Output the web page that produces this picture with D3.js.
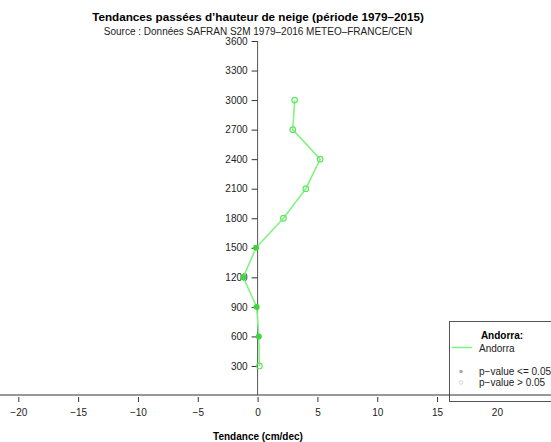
<!DOCTYPE html>
<html>
<head>
<meta charset="utf-8">
<script src="https://cdn.jsdelivr.net/npm/d3@7"></script>
<style>
  body { margin: 0; background: #fff; }
  text { font-family: "Liberation Sans", Arial, Helvetica, sans-serif; }
</style>
</head>
<body>
<svg id="chart" width="551" height="442"></svg>
<script>
// Elevation bands (m) and snow depth trends (cm/decade) for Andorra
const elevations = [300, 600, 900, 1200, 1500, 1800, 2100, 2400, 2700, 3000];
const trends     = [0.15, 0.1, -0.08, -1.2, -0.13, 2.16, 4.03, 5.23, 2.94, 3.1];
// true where p-value <= 0.05
const significant = [false, true, true, true, true, false, false, false, false, false];

const xTicks = [-20, -15, -10, -5, 0, 5, 10, 15, 20, 25];
const yTicks = [300, 600, 900, 1200, 1500, 1800, 2100, 2400, 2700, 3000, 3300, 3600];

const seriesName = "Andorra";
const lineColor = "#84f384";

const svg = d3.select("#chart");

const x = d3.scaleLinear().domain([-20, 20]).range([18.3, 496.9]);
const y = d3.scaleLinear().domain([0, 3600]).range([395.5, 41]);

// Titles
svg.append("text").attr("x", 258).attr("y", 21).attr("text-anchor", "middle")
  .attr("font-size", 11.7).attr("font-weight", "bold")
  .text("Tendances passées d’hauteur de neige (période 1979–2015)");
svg.append("text").attr("x", 258).attr("y", 35).attr("text-anchor", "middle")
  .attr("font-size", 10).attr("fill", "#222")
  .text("Source : Données SAFRAN S2M 1979–2016 METEO–FRANCE/CEN");

// Horizontal base line
svg.append("line").attr("x1", 0).attr("x2", 551).attr("y1", 395).attr("y2", 395)
  .attr("stroke", "#333").attr("stroke-width", 1);

// X axis (ticks + labels below base line)
const xAxis = d3.axisBottom(x).tickValues(xTicks).tickSize(5).tickPadding(7)
  .tickFormat(d => d < 0 ? "−" + Math.abs(d) : d);
const gx = svg.append("g").attr("transform", "translate(0,397)").call(xAxis);
gx.select(".domain").remove();
gx.selectAll("line").attr("stroke", "#333");
gx.selectAll("text").attr("font-size", 10).attr("fill", "#222")
  .style("font-family", "'Liberation Sans', Arial, sans-serif");

svg.append("text").attr("x", 258).attr("y", 440).attr("text-anchor", "middle")
  .attr("font-size", 10).attr("font-weight", "bold").text("Tendance (cm/dec)");

// Y axis at x = 0
const yAxis = d3.axisLeft(y).tickValues(yTicks).tickSize(6).tickPadding(4).tickFormat(d3.format("d"));
const gy = svg.append("g").attr("transform", `translate(${x(0)},0)`).call(yAxis);
gy.select(".domain").attr("d", `M0,${y(3600)}V395`).attr("stroke", "#555");
gy.selectAll("line").attr("stroke", "#333");
gy.selectAll("text").attr("font-size", 10).attr("fill", "#222")
  .style("font-family", "'Liberation Sans', Arial, sans-serif");

// Trend profile
const pts = elevations.map((e, i) => ({ e, t: trends[i], s: significant[i] }));
const line = d3.line().x(d => x(d.t)).y(d => y(d.e));
svg.append("path").datum(pts).attr("d", line)
  .attr("fill", "none").attr("stroke", lineColor).attr("stroke-width", 1.6);

svg.selectAll("circle.pt").data(pts).enter().append("circle")
  .attr("class", "pt")
  .attr("cx", d => x(d.t)).attr("cy", d => y(d.e))
  .attr("r", d => d.s ? 2.4 : 2.8)
  .attr("fill", d => d.s ? "#3fd43f" : "none")
  .attr("stroke", d => d.s ? "#3fd43f" : "#5fe85f")
  .attr("stroke-width", 1.2);

// Legend
const lg = svg.append("g");
lg.append("rect").attr("x", 449.5).attr("y", 321.5).attr("width", 110).attr("height", 80)
  .attr("fill", "#fff").attr("stroke", "#555").attr("stroke-width", 1);
lg.append("text").attr("x", 502).attr("y", 339).attr("text-anchor", "middle")
  .attr("font-size", 10).attr("font-weight", "bold").text(seriesName + ":");
lg.append("line").attr("x1", 452).attr("x2", 472).attr("y1", 347.5).attr("y2", 347.5)
  .attr("stroke", lineColor).attr("stroke-width", 1.6);
lg.append("text").attr("x", 479).attr("y", 351.5).attr("font-size", 10).attr("fill", "#222").text(seriesName);
lg.append("circle").attr("cx", 461).attr("cy", 371.5).attr("r", 1.8).attr("fill", "#aaa");
lg.append("text").attr("x", 479).attr("y", 375).attr("font-size", 10).attr("fill", "#222").text("p−value <= 0.05");
lg.append("circle").attr("cx", 461).attr("cy", 382.5).attr("r", 1.8).attr("fill", "none")
  .attr("stroke", "#ccc").attr("stroke-width", 0.8);
lg.append("text").attr("x", 479).attr("y", 386).attr("font-size", 10).attr("fill", "#222").text("p−value > 0.05");

// Redraw base line over legend bottom edge
svg.append("line").attr("x1", 449).attr("x2", 551).attr("y1", 395).attr("y2", 395)
  .attr("stroke", "#333").attr("stroke-width", 1);
</script>
</body>
</html>
